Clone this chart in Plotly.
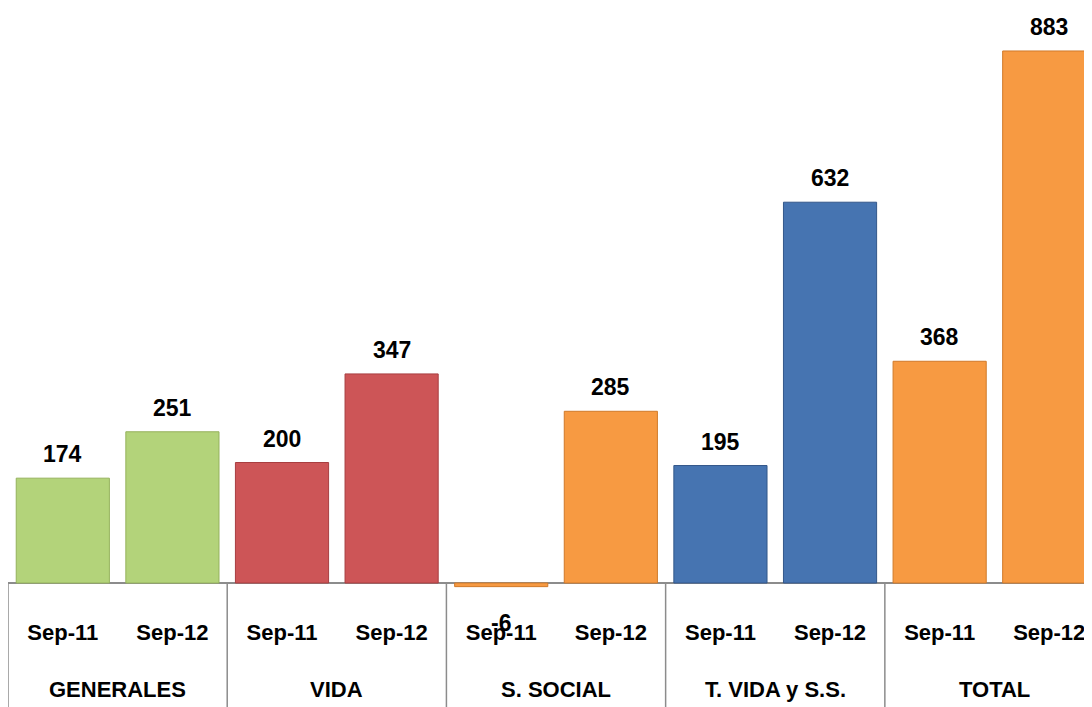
import plotly.graph_objects as go

groups = ["GENERALES", "VIDA", "S. SOCIAL", "T. VIDA y S.S.", "TOTAL"]
periods = ["Sep-11", "Sep-12"]
values = [174, 251, 200, 347, -6, 285, 195, 632, 368, 883]
group_colors = ["#B3D37A", "#CD5557", "#F79A42", "#4674B1", "#F79A42"]
line_colors = ["#95B25C", "#A83E40", "#D07A2A", "#33578A", "#D07A2A"]

FONT = "Liberation Sans, Arial, sans-serif"

n = len(values)
xs = list(range(n))
tick_text = [periods[i % 2] for i in range(n)]
colors = [group_colors[i // 2] for i in range(n)]
lcolors = [line_colors[i // 2] for i in range(n)]

ymin, ymax = -11.6, 934.4
x_range = [-0.5, n - 0.61]

fig = go.Figure()
fig.add_trace(go.Bar(
    x=xs, y=values, width=0.85,
    marker=dict(color=colors, line=dict(color=lcolors, width=1)),
    hoverinfo="x+y",
))

# value labels
for x, v in zip(xs, values):
    if v >= 0:
        fig.add_annotation(x=x, y=v, text=str(v), showarrow=False,
                           yanchor="bottom", yshift=9,
                           font=dict(family=FONT, size=23, color="black", weight=700))
    else:
        fig.add_annotation(x=x, y=v, text=str(v), showarrow=False,
                           yanchor="top", yshift=-21,
                           font=dict(family=FONT, size=23, color="black", weight=700))

# group labels
for gi, g in enumerate(groups):
    fig.add_annotation(x=gi * 2 + 0.5, y=-0.175, xref="x", yref="paper",
                       text=g, showarrow=False, yanchor="middle",
                       font=dict(family=FONT, size=22, color="black", weight=700))

# group dividers from the baseline down
zero_paper = (0 - ymin) / (ymax - ymin)
for gi in range(len(groups)):
    xd = gi * 2 - 0.5
    fig.add_shape(type="line", xref="x", yref="paper",
                  x0=xd, x1=xd, y0=zero_paper, y1=-0.3,
                  line=dict(color="#8C8C8C", width=1.5))

fig.update_layout(
    width=1084, height=699,
    margin=dict(l=0, r=0, t=12, b=117, autoexpand=False),
    paper_bgcolor="white", plot_bgcolor="white",
    showlegend=False,
    bargap=0.15,
)
fig.update_xaxes(range=x_range, tickvals=xs, ticktext=tick_text,
                 showgrid=False, showline=False, zeroline=False,
                 ticks="", ticklabelstandoff=27, automargin=False,
                 tickfont=dict(family=FONT, size=22, color="black", weight=700))
fig.update_yaxes(range=[ymin, ymax], showgrid=False, showticklabels=False,
                 zeroline=True, zerolinecolor="#8C8C8C", zerolinewidth=1.5,
                 showline=False, automargin=False)

fig.write_html("out.html")
